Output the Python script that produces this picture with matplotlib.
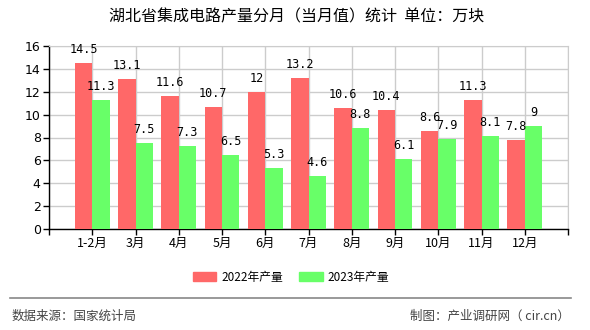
import matplotlib
matplotlib.use("Agg")
import matplotlib.pyplot as plt
from matplotlib.patches import Patch
import numpy as np

plt.rcParams['font.family'] = ['Noto Sans CJK SC', 'DejaVu Sans']

categories = ['1-2月', '3月', '4月', '5月', '6月', '7月', '8月', '9月', '10月', '11月', '12月']
v2022 = [14.5, 13.1, 11.6, 10.7, 12, 13.2, 10.6, 10.4, 8.6, 11.3, 7.8]
v2023 = [11.3, 7.5, 7.3, 6.5, 5.3, 4.6, 8.8, 6.1, 7.9, 8.1, 9]
series_names = ['2022年产量', '2023年产量']
yticks = [0, 2, 4, 6, 8, 10, 12, 14, 16]

c_red = '#FF6868'
c_green = '#68FF68'

fig = plt.figure(figsize=(5.9, 3.3), dpi=100)
ax = fig.add_axes([49/590, 1-229/330, (568-49)/590, (229-46)/330])

x = np.arange(1, len(categories) + 1)
w = 0.4
b1 = ax.bar(x - w/2, v2022, width=w, color=c_red, zorder=3)
b2 = ax.bar(x + w/2, v2023, width=w, color=c_green, zorder=3)

for bars, vals in ((b1, v2022), (b2, v2023)):
    for rect, v in zip(bars, vals):
        ax.annotate(f'{v:g}', (rect.get_x() + rect.get_width()/2, rect.get_height()),
                    xytext=(0, 5), textcoords='offset points', ha='center', va='bottom',
                    fontsize=8.5, family='DejaVu Sans Mono', color='black', zorder=4)

ax.set_xlim(0, len(categories) + 1)
ax.set_ylim(0, 16)
ax.set_yticks(yticks)
ax.set_yticklabels([str(t) for t in yticks], fontsize=9, family='DejaVu Sans')
ax.set_xticks(np.arange(0, len(categories) + 2))
ax.set_xticklabels([''] + categories + [''], fontsize=9)
ax.tick_params(axis='both', direction='out', length=4, width=1, color='black', pad=2)
ax.grid(True, color='#cccccc', linewidth=1, zorder=0)
ax.set_axisbelow(True)
for s in ['top', 'right']:
    ax.spines[s].set_color('#cccccc')
for s in ['left', 'bottom']:
    ax.spines[s].set_color('black')
    ax.spines[s].set_linewidth(1)

fig.text(297/590, 1-17/330, '湖北省集成电路产量分月（当月值）统计  单位：万块',
         ha='center', va='center', fontsize=11.5, color='black')

handles = [Patch(color=c_red), Patch(color=c_green)]
fig.legend(handles, series_names, loc='center', bbox_to_anchor=(291/590, 1-277/330),
           ncol=2, frameon=False, fontsize=8.5, handlelength=2.0, handleheight=0.9,
           columnspacing=1.4, handletextpad=0.4)

fig.add_artist(plt.Line2D([10/590, 571/590], [1-298/330, 1-298/330], color='#888888', linewidth=1.2))
fig.text(12/590, 1-316/330, '数据来源：国家统计局', ha='left', va='center', fontsize=9, color='#444444')
fig.text(570/590, 1-316/330, '制图：产业调研网（ cir.cn）', ha='right', va='center', fontsize=9, color='#444444')

fig.savefig('out.png', dpi=100)
